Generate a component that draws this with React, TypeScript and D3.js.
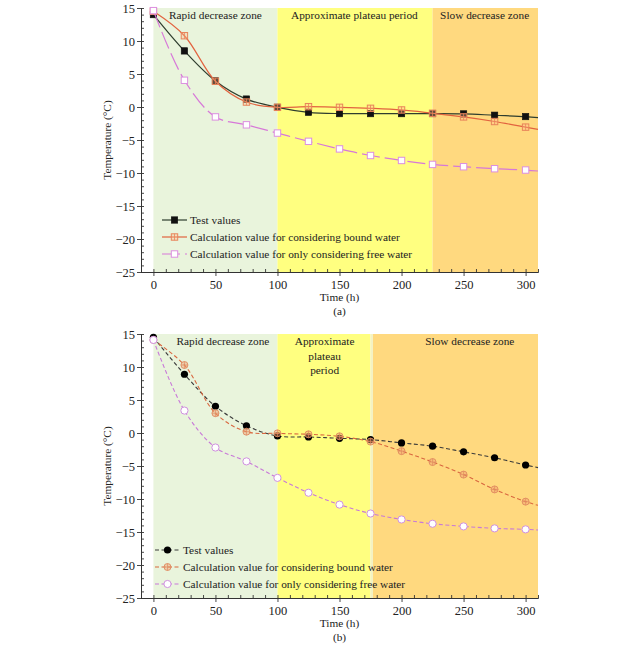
import { useEffect, useRef } from 'react'
import { select, scaleLinear, line, curveCatmullRom, axisLeft, axisBottom, range } from 'd3'

// time steps (h) of every marker, and the plot edge the curves run to
const hours = [0, 25, 50, 75, 100, 125, 150, 175, 200, 225, 250, 275, 300]
const edgeHour = 310

// (a)
const testA = [14.0, 8.5, 3.95, 1.2, -0.05, -0.8, -1.0, -1.0, -1.0, -1.0, -1.05, -1.25, -1.45]
const testAEnd = -1.6
const boundA = [14.5, 10.8, 3.9, 0.75, -0.05, 0.05, -0.05, -0.2, -0.45, -0.95, -1.5, -2.2, -3.05]
const boundAEnd = -3.4
const freeA = [14.6, 4.05, -1.5, -2.7, -3.95, -5.2, -6.35, -7.35, -8.1, -8.7, -9.05, -9.35, -9.55]
const freeAEnd = -9.7

// (b)
const testB = [14.5, 8.9, 4.05, 1.1, -0.45, -0.6, -0.8, -1.0, -1.5, -2.0, -2.85, -3.75, -4.85]
const testBEnd = -5.25
const boundB = [14.1, 10.3, 3.0, 0.2, -0.05, -0.2, -0.5, -1.3, -2.75, -4.4, -6.3, -8.55, -10.4]
const boundBEnd = -10.95
const freeB = [14.1, 3.4, -2.2, -4.3, -6.8, -9.05, -10.85, -12.2, -13.1, -13.75, -14.15, -14.45, -14.6]
const freeBEnd = -14.7

const zoneEdgesA = [0, 100, 225, 310]
const zoneEdgesB = [0, 100, 175, 310]
const zoneColors = ['#e9f4dc', '#ffff80', '#ffd97f']
const zoneLabelsA = [['Rapid decrease zone'], ['Approximate plateau period'], ['Slow decrease zone']]
const zoneLabelHoursA = [50, 162, 267]
const zoneLabelsB = [['Rapid decrease zone'], ['Approximate', 'plateau', 'period'], ['Slow decrease zone']]
const zoneLabelHoursB = [56, 138, 255]

const legendLabels = [
  'Test values',
  'Calculation value for considering bound water',
  'Calculation value for only considering free water',
]

const xTicks = [0, 50, 100, 150, 200, 250, 300]
const yTicks = [15, 10, 5, 0, -5, -10, -15, -20, -25]

const FONT = '"Liberation Serif", "Times New Roman", serif'

type Marker = 'squareFilled' | 'squareCross' | 'squareOpen' | 'circleFilled' | 'circleCross' | 'circleOpen'

interface Series {
  values: number[]
  end: number
  stroke: string
  width: number
  dash?: string
  marker: Marker
  markerStroke: string
}

function MarkerShape({ kind, x, y, color }: { kind: Marker; x: number; y: number; color: string }) {
  const s = 3.2
  if (kind === 'squareFilled')
    return <rect x={x - s} y={y - s} width={2 * s} height={2 * s} fill="#111" stroke="#111" strokeWidth={0.6} />
  if (kind === 'squareCross')
    return (
      <g>
        <rect x={x - s} y={y - s} width={2 * s} height={2 * s} fill="rgba(255,190,140,0.35)" stroke={color} strokeWidth={1} />
        <line x1={x} x2={x} y1={y - s} y2={y + s} stroke={color} strokeWidth={0.8} />
      </g>
    )
  if (kind === 'squareOpen')
    return <rect x={x - s} y={y - s} width={2 * s} height={2 * s} fill="#fff" stroke={color} strokeWidth={1} />
  if (kind === 'circleFilled') return <circle cx={x} cy={y} r={3.6} fill="#000" />
  if (kind === 'circleCross')
    return (
      <g>
        <circle cx={x} cy={y} r={3.5} fill="rgba(240,160,110,0.45)" stroke={color} strokeWidth={0.9} />
        <line x1={x - 3.5} x2={x + 3.5} y1={y} y2={y} stroke={color} strokeWidth={0.7} />
        <line x1={x} x2={x} y1={y - 3.5} y2={y + 3.5} stroke={color} strokeWidth={0.7} />
      </g>
    )
  return <circle cx={x} cy={y} r={3.6} fill="#fff" stroke={color} strokeWidth={1} />
}

interface PanelProps {
  top: number
  bottom: number
  series: Series[]
  zoneEdges: number[]
  zoneLabels: string[][]
  zoneLabelHours: number[]
  strip?: boolean
  legendX: number
  legendY: number
  caption: string
}

function Panel({ top, bottom, series, zoneEdges, zoneLabels, zoneLabelHours, strip, legendX, legendY, caption }: PanelProps) {
  const axisRef = useRef<SVGGElement | null>(null)
  const x = scaleLinear().domain([-10, 310]).range([141, 538])
  const y = scaleLinear().domain([-25, 15]).range([bottom, top])

  useEffect(() => {
    const g = select(axisRef.current)
    g.selectAll('*').remove()
    const style = (sel: any) => {
      sel.selectAll('path').attr('stroke', '#333').attr('stroke-width', 1)
      sel.selectAll('line').attr('stroke', '#333').attr('stroke-width', 0.9)
      sel.selectAll('text').attr('fill', '#222').style('font-family', FONT).style('font-size', '12.5px')
    }
    // minor ticks pointing inward
    g.append('g')
      .attr('transform', `translate(${x(-10)},0)`)
      .call(axisLeft(y).tickValues(range(-25, 16, 1)).tickSize(-3).tickSizeOuter(0).tickFormat(() => '') as any)
      .call(style)
    g.append('g')
      .attr('transform', `translate(0,${y(-25)})`)
      .call(axisBottom(x).tickValues(range(0, 311, 10)).tickSize(-3).tickSizeOuter(0).tickFormat(() => '') as any)
      .call(style)
    // major ticks with labels
    g.append('g')
      .attr('transform', `translate(${x(-10)},0)`)
      .call(axisLeft(y).tickValues(yTicks).tickSize(4).tickSizeOuter(0).tickPadding(2) as any)
      .call(style)
    g.append('g')
      .attr('transform', `translate(0,${y(-25)})`)
      .call(axisBottom(x).tickValues(xTicks).tickSize(4).tickSizeOuter(0).tickPadding(4) as any)
      .call(style)
  }, [top, bottom])

  const curve = line<[number, number]>()
    .x((d) => x(d[0]))
    .y((d) => y(d[1]))
    .curve(curveCatmullRom.alpha(0.5))

  const zoneRects = zoneColors.map((color, i) => {
    const from = zoneEdges[i] + (strip && i === 2 ? 2 : 0)
    return (
      <rect key={i} x={x(from)} y={y(15)} width={x(zoneEdges[i + 1]) - x(from)} height={y(-25) - y(15)} fill={color} />
    )
  })

  return (
    <g>
      {zoneRects}
      {strip && (
        <rect x={x(zoneEdges[2])} y={y(15)} width={x(zoneEdges[2] + 2) - x(zoneEdges[2])} height={y(-25) - y(15)} fill="#f4f2c4" />
      )}
      {zoneLabels.map((lines, i) =>
        lines.map((t, j) => (
          <text key={`${i}-${j}`} x={x(zoneLabelHours[i])} y={top + 11 + j * 14.5} textAnchor="middle" fontSize={11.3} fill="#222">
            {t}
          </text>
        ))
      )}
      {series.map((s, i) => {
        const pts: [number, number][] = hours.map((h, k) => [h, s.values[k]])
        pts.push([edgeHour, s.end])
        return (
          <g key={i}>
            <path d={curve(pts) || ''} fill="none" stroke={s.stroke} strokeWidth={s.width} strokeDasharray={s.dash} />
            {hours.map((h, k) => (
              <MarkerShape key={k} kind={s.marker} x={x(h)} y={y(s.values[k])} color={s.markerStroke} />
            ))}
          </g>
        )
      })}
      {legendLabels.map((label, i) => {
        const s = series[i]
        const ly = legendY + i * 17
        return (
          <g key={label}>
            <line x1={legendX} x2={legendX + 25} y1={ly} y2={ly} stroke={s.stroke} strokeWidth={s.width} strokeDasharray={s.dash} />
            <MarkerShape kind={s.marker} x={legendX + 12.5} y={ly} color={s.markerStroke} />
            <text x={legendX + 28} y={ly + 4} fontSize={11.3} fill="#222">
              {label}
            </text>
          </g>
        )
      })}
      <g ref={axisRef} />
      <text x={x(150)} y={bottom + 29} textAnchor="middle" fontSize={11.3} fill="#222">
        Time (h)
      </text>
      <text x={x(150)} y={bottom + 43} textAnchor="middle" fontSize={11.3} fill="#222">
        {caption}
      </text>
      <text
        transform={`translate(111,${(top + bottom) / 2}) rotate(-90)`}
        textAnchor="middle"
        fontSize={11.3}
        fill="#222"
      >
        Temperature (°C)
      </text>
    </g>
  )
}

export default function App() {
  const seriesA: Series[] = [
    { values: testA, end: testAEnd, stroke: '#2e3d2e', width: 1.2, marker: 'squareFilled', markerStroke: '#111' },
    { values: boundA, end: boundAEnd, stroke: '#e2633f', width: 1.2, marker: 'squareCross', markerStroke: '#e8845a' },
    { values: freeA, end: freeAEnd, stroke: '#d778d8', width: 1.2, dash: '18 5', marker: 'squareOpen', markerStroke: '#dc8fe0' },
  ]
  const seriesB: Series[] = [
    { values: testB, end: testBEnd, stroke: '#3a3a3a', width: 1.1, dash: '4 2.5', marker: 'circleFilled', markerStroke: '#000' },
    { values: boundB, end: boundBEnd, stroke: '#d9673f', width: 1.1, dash: '4 2.5', marker: 'circleCross', markerStroke: '#e08a60' },
    { values: freeB, end: freeBEnd, stroke: '#c878d8', width: 1.1, dash: '4 2.5', marker: 'circleOpen', markerStroke: '#d090e0' },
  ]
  return (
    <svg
      width={640}
      height={645}
      style={{ position: 'absolute', left: 0, top: 0, background: '#fff', fontFamily: FONT }}
    >
      <Panel
        top={8}
        bottom={272}
        series={seriesA}
        zoneEdges={zoneEdgesA}
        zoneLabels={zoneLabelsA}
        zoneLabelHours={zoneLabelHoursA}
        legendX={162}
        legendY={220}
        caption="(a)"
      />
      <Panel
        top={334}
        bottom={598}
        series={seriesB}
        zoneEdges={zoneEdgesB}
        zoneLabels={zoneLabelsB}
        zoneLabelHours={zoneLabelHoursB}
        strip
        legendX={155}
        legendY={550}
        caption="(b)"
      />
    </svg>
  )
}
